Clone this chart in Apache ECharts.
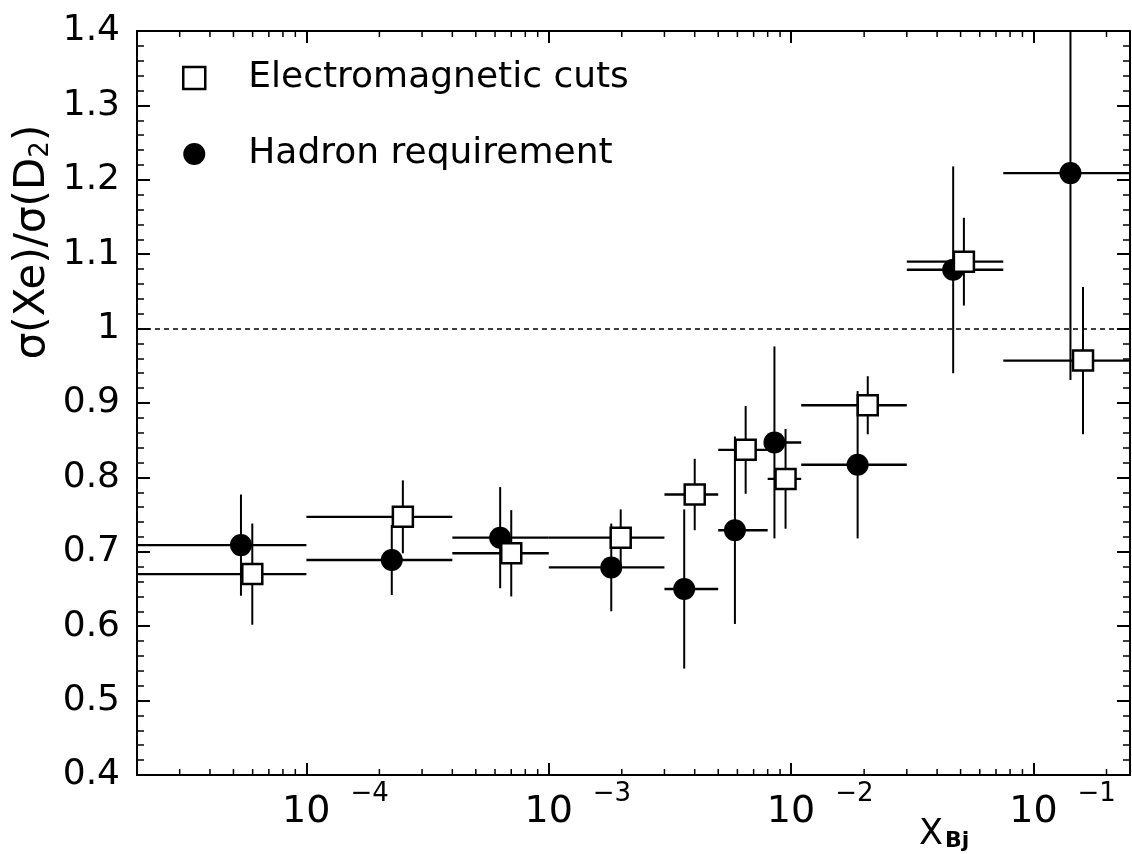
<!DOCTYPE html>
<html><head><meta charset="utf-8">
<script src="https://cdn.jsdelivr.net/npm/echarts@6/dist/echarts.min.js"></script>
<style>html,body{margin:0;padding:0;background:#fff}#c{width:1132px;height:854px}</style>
</head><body><div id="c"></div>
<script>
// ---- data ----
const seriesNames = ['Electromagnetic cuts', 'Hadron requirement'];
const binLow  = [1e-5, 1e-4, 4e-4, 1e-3, 3e-3, 5e-3, 8e-3, 0.011, 0.03, 0.075];
const binHigh = [1e-4, 4e-4, 1e-3, 3e-3, 5e-3, 8e-3, 0.011, 0.03, 0.075, 0.3];
const emX   = [5.98e-5, 2.50e-4, 7.0e-4, 1.98e-3, 4.0e-3, 6.49e-3, 9.48e-3, 0.0207, 0.0516, 0.160];
const emY   = [0.670, 0.747, 0.698, 0.719, 0.777, 0.837, 0.798, 0.897, 1.090, 0.957];
const emErr = [0.068, 0.049, 0.058, 0.038, 0.048, 0.059, 0.067, 0.039, 0.059, 0.099];
const hadX   = [5.37e-5, 2.25e-4, 6.30e-4, 1.81e-3, 3.62e-3, 5.86e-3, 8.53e-3, 0.0188, 0.0466, 0.142];
const hadY   = [0.709, 0.689, 0.719, 0.679, 0.650, 0.729, 0.847, 0.817, 1.079, 1.209];
const hadErr = [0.068, 0.047, 0.068, 0.059, 0.107, 0.126, 0.129, 0.099, 0.139, 0.278];
const xTickExponents = [-4, -3, -2, -1];
const xMinorTicks = [3e-5, 4e-5, 5e-5, 6e-5, 7e-5, 8e-5, 9e-5,
  2e-4, 3e-4, 4e-4, 5e-4, 6e-4, 7e-4, 8e-4, 9e-4,
  2e-3, 3e-3, 4e-3, 5e-3, 6e-3, 7e-3, 8e-3, 9e-3,
  2e-2, 3e-2, 4e-2, 5e-2, 6e-2, 7e-2, 8e-2, 9e-2, 2e-1];
const refLineY = 1;

const FONT = 'DejaVu Sans';
const chart = echarts.init(document.getElementById('c'), null, {renderer: 'canvas'});

function errRender(params, api) {
  const x = api.value(0), y = api.value(1), xl = api.value(2), xh = api.value(3), e = api.value(4);
  const pl = api.coord([xl, y]), ph = api.coord([xh, y]);
  const pt = api.coord([x, y + e]), pb = api.coord([x, y - e]);
  return {type: 'group', children: [
    {type: 'line', shape: {x1: pl[0], y1: pl[1], x2: ph[0], y2: ph[1]}, style: {stroke: '#000', lineWidth: 2.4}},
    {type: 'line', shape: {x1: pt[0], y1: pt[1], x2: pb[0], y2: pb[1]}, style: {stroke: '#000', lineWidth: 2}}
  ]};
}

const axisLineStyle = {color: '#000', width: 2};
const xLabelFmt = v => {
  const lg = Math.log10(v), e = Math.round(lg);
  if (Math.abs(lg - e) > 1e-6 || xTickExponents.indexOf(e) < 0) return '';
  return '{pad| }{b|10}{gap| }{s|\u2212' + (-e) + '}';
};

const yAxisBase = {
  type: 'value', min: 0.4, max: 1.4, interval: 0.1,
  axisLine: {show: true, lineStyle: axisLineStyle},
  axisTick: {show: true, inside: true, length: 13, lineStyle: {color: '#000', width: 2}},
  minorTick: {show: true, splitNumber: 5, length: 7, lineStyle: {color: '#000', width: 1.5}},
  splitLine: {show: false}, minorSplitLine: {show: false}
};
const xAxisBase = {
  type: 'log', logBase: 10, min: 2e-5, max: 0.25,
  axisLine: {show: true, lineStyle: axisLineStyle},
  axisTick: {show: true, inside: true, length: 12, lineStyle: {color: '#000', width: 2}},
  splitLine: {show: false}, minorTick: {show: false}, minorSplitLine: {show: false}
};

chart.setOption({
  animation: false,
  backgroundColor: '#fff',
  grid: {left: 137, right: 2, top: 31, bottom: 79, containLabel: false},
  xAxis: [
    Object.assign({}, xAxisBase, {position: 'bottom',
      axisLabel: {show: true, margin: 6, color: '#000', formatter: xLabelFmt, showMinLabel: false, showMaxLabel: false,
        lineHeight: 50,
        rich: {
          pad: {width: 58, fontSize: 38, fontFamily: FONT},
          b: {fontSize: 38, fontFamily: FONT, color: '#000', verticalAlign: 'bottom'},
          gap: {width: 20, fontSize: 26, fontFamily: FONT},
          s: {fontSize: 26, fontFamily: FONT, color: '#000', verticalAlign: 'top'}
        }}}),
    Object.assign({}, xAxisBase, {position: 'top', axisLabel: {show: false}})
  ],
  yAxis: [
    Object.assign({}, yAxisBase, {position: 'left',
      axisLabel: {show: true, fontSize: 36, fontFamily: FONT, color: '#000', margin: 17}}),
    Object.assign({}, yAxisBase, {position: 'right', axisLabel: {show: false}})
  ],
  legend: {
    orient: 'vertical', left: 182, top: 60, padding: 0,
    itemWidth: 22, itemHeight: 22, itemGap: 40,
    data: [
      {name: seriesNames[0], icon: 'rect', itemStyle: {color: '#fff', borderColor: '#000', borderWidth: 2.5}},
      {name: seriesNames[1], icon: 'circle', itemStyle: {color: '#000', borderWidth: 0}}
    ],
    formatter: n => '{g| }' + n,
    textStyle: {fontSize: 36, fontFamily: FONT, color: '#000', rich: {g: {width: 38, fontSize: 36}}}
  },
  graphic: [
    {type: 'text', x: 33, y: 242, rotation: Math.PI / 2, silent: true,
      style: {text: '{a|\u03c3(Xe)/\u03c3(D}{s|2}{a|)}', align: 'center', verticalAlign: 'middle',
        rich: {a: {fontSize: 42, fontFamily: FONT, fill: '#000'},
               s: {fontSize: 26, fontFamily: FONT, fill: '#000', verticalAlign: 'bottom'}}}},
    {type: 'text', x: 919, y: 812, silent: true,
      style: {text: '{x|X}{s|Bj}', lineHeight: 40,
        rich: {x: {fontSize: 35, fontFamily: FONT, fill: '#000', verticalAlign: 'bottom'},
               s: {fontSize: 22, fontFamily: FONT, fontWeight: 'bold', fill: '#000', verticalAlign: 'bottom', padding: [0, 0, 0, 2]}}}}
  ],
  series: [
    {type: 'custom', name: 'x minor ticks', silent: true, clip: false, z: 1,
      data: xMinorTicks.map(v => [v, 0.4]),
      encode: {x: 0, y: 1},
      renderItem: (params, api) => {
        const cs = params.coordSys;
        const px = api.coord([api.value(0), 0.4])[0];
        return {type: 'group', children: [
          {type: 'line', shape: {x1: px, y1: cs.y + cs.height, x2: px, y2: cs.y + cs.height - 6}, style: {stroke: '#000', lineWidth: 1.5}},
          {type: 'line', shape: {x1: px, y1: cs.y, x2: px, y2: cs.y + 6}, style: {stroke: '#000', lineWidth: 1.5}}
        ]};
      }},
    {type: 'custom', name: 'em errors', silent: true, clip: true, z: 2,
      data: emX.map((x, i) => [x, emY[i], binLow[i], binHigh[i], emErr[i]]),
      encode: {x: 0, y: 1}, renderItem: errRender},
    {type: 'custom', name: 'had errors', silent: true, clip: true, z: 2,
      data: hadX.map((x, i) => [x, hadY[i], binLow[i], binHigh[i], hadErr[i]]),
      encode: {x: 0, y: 1}, renderItem: errRender},
    {type: 'scatter', name: seriesNames[1], z: 3, symbol: 'circle', symbolSize: 22,
      itemStyle: {color: '#000', opacity: 1},
      data: hadX.map((x, i) => [x, hadY[i]]),
      markLine: {silent: true, symbol: ['none', 'none'], label: {show: false},
        lineStyle: {type: [5, 4], color: '#000', width: 1.5}, data: [{yAxis: refLineY}]}},
    {type: 'scatter', name: seriesNames[0], z: 4, symbol: 'rect', symbolSize: 20,
      itemStyle: {color: '#fff', borderColor: '#000', borderWidth: 2.5, opacity: 1},
      data: emX.map((x, i) => [x, emY[i]])}
  ]
});
</script></body></html>
